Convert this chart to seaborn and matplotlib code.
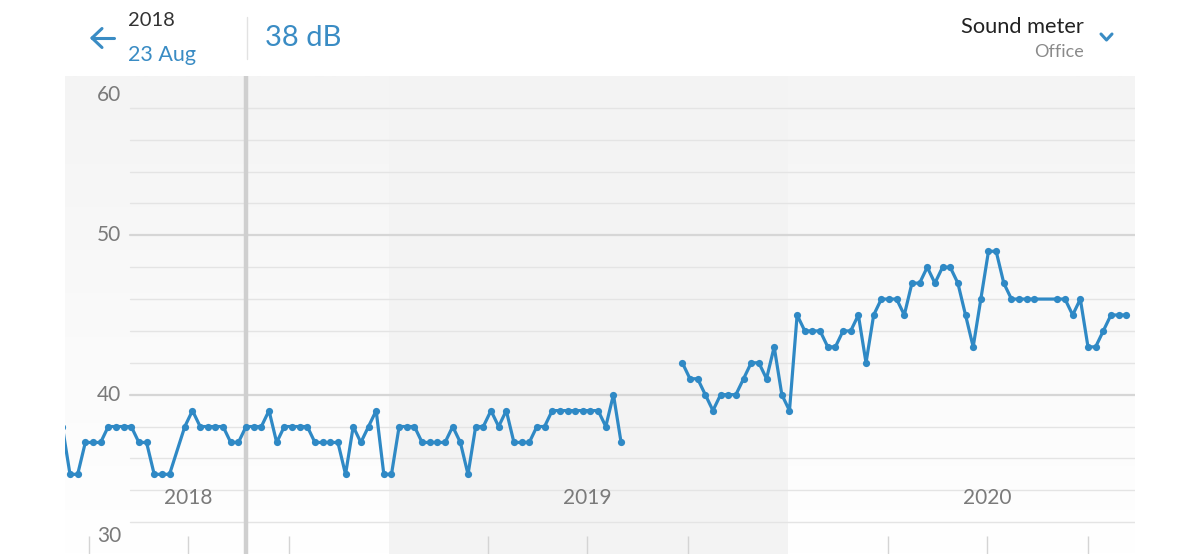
import numpy as np
import pandas as pd
import matplotlib
matplotlib.use("Agg")
import matplotlib.pyplot as plt
import matplotlib.transforms as mtransforms
from matplotlib.lines import Line2D
from matplotlib.colors import LinearSegmentedColormap
import seaborn as sns

# ---------------------------------------------------------
# data: weekly sound level readings (dB), Thursdays
# ---------------------------------------------------------
start_a = "2018-03-08"
db_a = [38,
        35, 35, 37, 37, 37, 38, 38, 38, 38, 37, 37, 35, 35, 35, None, 38, 39, 38, 38, 38,
        38, 37, 37, 38, 38, 38, 39, 37, 38, 38, 38, 38, 37, 37, 37, 37, 35, 38, 37, 38,
        39, 35, 35, 38, 38, 38, 37, 37, 37, 37, 38, 37, 35, 38, 38, 39, 38, 39, 37, 37,
        37, 38, 38, 39, 39, 39, 39, 39, 39, 39, 38, 40, 37]

start_b = "2019-09-26"
db_b = [42, 41, 41, 40, 39, 40, 40, 40, 41, 42, 42, 41, 43, 40, 39,
        45, 44, 44, 44, 43, 43, 44, 44, 45, 42, 45,
        46, 46, 46, 45, 47, 47, 48, 47, 48, 48, 47,
        45, 43, 46, 49, 49, 47, 46, 46, 46, 46, None, None,
        46, 46, 45, 46, 43, 43, 44, 45, 45, 45]

year_labels = ["2018", "2019", "2020"]
year_label_dates = ["2018-07-01", "2019-07-01", "2020-07-01"]
quarter_ticks = ["2018-04-01", "2018-07-01", "2018-10-01",
                 "2019-04-01", "2019-07-01", "2019-10-01",
                 "2020-04-01", "2020-07-01", "2020-10-01"]
y_labels = ["60", "50", "40", "30"]
y_label_pos = [58.8, 50, 40, 31.1]
selected_date = "2018-08-23"
selected_value = "38 dB"

df_a = pd.DataFrame({"date": pd.date_range(start_a, periods=len(db_a), freq="7D"),
                     "db": pd.to_numeric(pd.Series(db_a), errors="coerce")})
df_b = pd.DataFrame({"date": pd.date_range(start_b, periods=len(db_b), freq="7D"),
                     "db": pd.to_numeric(pd.Series(db_b), errors="coerce")})

# ---------------------------------------------------------
# figure
# ---------------------------------------------------------
sns.set_theme(style="white")
plt.rcParams["font.family"] = ["Lato", "DejaVu Sans"]

W, H = 1200, 554
fig = plt.figure(figsize=(W / 100, H / 100), dpi=100)
fig.patch.set_facecolor("white")

blue = "#2f89c5"
text_blue = "#3a8cc4"
grey_txt = "#7a7a7a"

def fx(x):
    return x / W

def fy(y):
    return 1 - y / H

rect = [fx(65), 0, 1070 / W, (H - 76) / H]

# background gradient (behind)
bg = fig.add_axes(rect, zorder=0)
grad = np.linspace(0, 1, 256).reshape(-1, 1)
cmap = LinearSegmentedColormap.from_list("bg", ["#f4f4f4", "#ffffff"])
bg.imshow(grad, aspect="auto", cmap=cmap, extent=[0, 1, 0, 1], origin="upper")
bg.set_axis_off()

ax = fig.add_axes(rect, zorder=1)
ax.patch.set_alpha(0)

xmin, xmax = pd.Timestamp("2018-03-10 10:00"), pd.Timestamp("2020-11-13")
ax.axvspan(pd.Timestamp("2019-01-01"), pd.Timestamp("2020-01-01"), color="#f3f3f3", lw=0, zorder=0)

# grid lines every 2 dB, starting right of the y labels
gx0 = (130 - 65) / 1070
for v in range(32, 60, 2):
    if v in (40, 50):
        ax.axhline(v, xmin=gx0, xmax=1, color="#d6d6d6", lw=1.6, zorder=1)
    else:
        ax.axhline(v, xmin=gx0, xmax=1, color="#e4e4e4", lw=1.0, zorder=1)

# quarter ticks at the bottom
ax.vlines(pd.to_datetime(quarter_ticks), 30, 31.1, color="#d4d4d4", lw=1.0, zorder=1)

# selected-date cursor
ax.axvline(pd.Timestamp(selected_date), color="#cfcfcf", lw=3.2, zorder=2)

for d in (df_a, df_b):
    sns.lineplot(data=d, x="date", y="db", ax=ax, color=blue, lw=2.3,
                 marker="o", markersize=5.2, markeredgewidth=0, zorder=3)

ax.set_xlim(xmin, xmax)
ax.set_ylim(30, 60)
ax.set_xlabel("")
ax.set_ylabel("")
ax.set_xticks([])
ax.set_yticks([])
for s in ax.spines.values():
    s.set_visible(False)

trans = mtransforms.blended_transform_factory(ax.transAxes, ax.transData)
for lab, pos in zip(y_labels, y_label_pos):
    ax.text((121 - 65) / 1070, pos, lab, transform=trans, ha="right", va="center",
            fontsize=15, color=grey_txt, zorder=4)

for lab, d in zip(year_labels, year_label_dates):
    ax.text(pd.Timestamp(d), 33.5, lab, ha="center", va="center",
            fontsize=15, color=grey_txt, zorder=4)

# ---------------------------------------------------------
# header
# ---------------------------------------------------------
# back arrow
for (x0, y0, x1, y1) in [(92, 38, 114, 38), (92, 38, 102, 28.5), (92, 38, 102, 47.5)]:
    fig.add_artist(Line2D([fx(x0), fx(x1)], [fy(y0), fy(y1)], color=text_blue,
                          lw=2.2, solid_capstyle="round"))

fig.text(fx(128), fy(21), "2018", ha="left", va="center", fontsize=14.5, color="#333333")
fig.text(fx(128), fy(55), "23 Aug", ha="left", va="center", fontsize=15.5, color=text_blue)
fig.add_artist(Line2D([fx(247), fx(247)], [fy(17), fy(59)], color="#e2e2e2", lw=1))
fig.text(fx(265), fy(38), selected_value, ha="left", va="center", fontsize=21, color=text_blue)

fig.text(fx(1084), fy(27), "Sound meter", ha="right", va="center", fontsize=15.7, color="#222222")
fig.text(fx(1084), fy(52), "Office", ha="right", va="center", fontsize=13, color="#8a8a8a")
fig.add_artist(Line2D([fx(1101), fx(1106.5), fx(1112)], [fy(34), fy(40), fy(34)],
                      color=text_blue, lw=2.2, solid_capstyle="round", solid_joinstyle="round"))

fig.savefig("out.png", dpi=100, facecolor="white")
